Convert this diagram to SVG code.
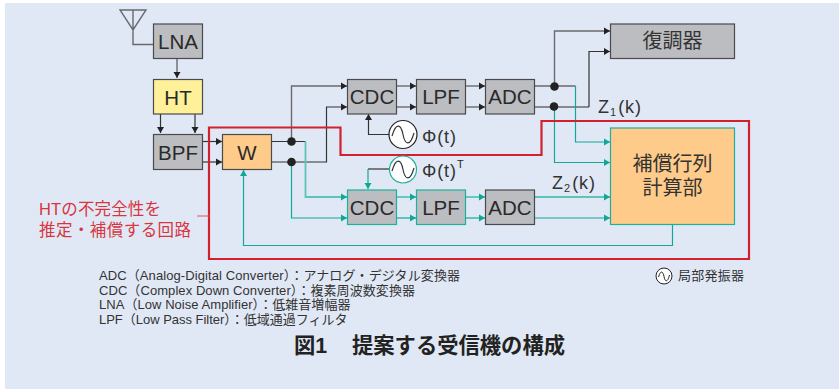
<svg xmlns="http://www.w3.org/2000/svg" width="839" height="389" viewBox="0 0 839 389">
<style>
text{font-family:"Liberation Sans","Noto Sans CJK JP",sans-serif;fill:#2a2a2a}
.jp{font-family:"Noto Sans CJK JP",sans-serif;fill:#333}
.b{font-size:20.500px;text-anchor:middle}
.g{fill:#bcbdc0;stroke:#4a4a4c;stroke-width:1.2}
.gt{fill:#bcbdc0;stroke:#1fb09c;stroke-width:1.2}
.k{fill:none;stroke:#333;stroke-width:1.2}
.kg{fill:none;stroke:#6a6a6e;stroke-width:1.4}
.t{fill:none;stroke:#12a898;stroke-width:1.2}
.tl{fill:none;stroke:#5cc4b8;stroke-width:1.8}
.r{fill:none;stroke:#d2202e;stroke-width:2.2}
.n{font-size:13px;fill:#333}
.lab{font-size:18px;letter-spacing:1px;fill:#333}
.red{font-size:16.500px;fill:#d8353f}
</style>
<defs>
<marker id="ak" markerUnits="userSpaceOnUse" markerWidth="7" markerHeight="8" refX="6" refY="4" orient="auto"><path d="M0 .5L6 4L0 7.500z" fill="#222"/></marker>
<marker id="at" markerUnits="userSpaceOnUse" markerWidth="7" markerHeight="8" refX="6" refY="4" orient="auto"><path d="M0 .5L6 4L0 7.500z" fill="#0fa896"/></marker>
</defs>
<rect x="0" y="0" width="839" height="389" fill="#fff"/>
<rect x="5" y="3" width="834" height="386" fill="#e1e8f5"/>
<g id="connectors">
<path class="kg" d="M120 10H146L133 30ZM133 10V44.500H153.500"/>
<path class="kg" d="M177 59V78" marker-end="url(#ak)"/>
<path class="k" d="M160.500 114V133" marker-end="url(#ak)"/>
<path class="k" d="M195 114V133" marker-end="url(#ak)"/>
<path class="k" d="M202 141.500H222" marker-end="url(#ak)"/>
<path class="k" d="M202 162H222" marker-end="url(#ak)"/>
<path class="k" d="M271 141.500H305.500"/>
<path class="k" d="M271 162H326.500V107H347" marker-end="url(#ak)"/>
<path class="kg" d="M291.500 141V86H347" marker-end="url(#ak)"/>
<path class="tl" d="M305.500 141.500V197H347" marker-end="url(#at)"/>
<path class="t" d="M291.500 162V218H347" marker-end="url(#at)"/>
<path class="kg" d="M396 86H416" marker-end="url(#ak)"/>
<path class="kg" d="M396 107H416" marker-end="url(#ak)"/>
<path class="kg" d="M465 86H485" marker-end="url(#ak)"/>
<path class="kg" d="M465 107H485" marker-end="url(#ak)"/>
<path class="kg" d="M534 86H575.500"/>
<path class="kg" d="M534 107H589"/>
<path class="kg" d="M554.500 86V31H610" marker-end="url(#ak)"/>
<path class="k" d="M589 107V51.500H610" marker-end="url(#ak)"/>
<path class="t" d="M575.500 86V142H610" marker-end="url(#at)"/>
<path class="t" d="M554.500 107V162.500H610" marker-end="url(#at)"/>
<path class="k" d="M389 134.500H368.500V114" marker-end="url(#ak)"/>
<path class="k" d="M389 169H368"/>
<path class="t" d="M368 169V189" marker-end="url(#at)"/>
<path class="tl" d="M396 197H416" marker-end="url(#at)"/>
<path class="t" d="M396 218H416" marker-end="url(#at)"/>
<path class="tl" d="M465 197H485" marker-end="url(#at)"/>
<path class="t" d="M465 218H485" marker-end="url(#at)"/>
<path class="tl" d="M534 197H610" marker-end="url(#at)"/>
<path class="t" d="M534 218H610" marker-end="url(#at)"/>
<path class="t" d="M672.500 224V245.500H243.500V170" marker-end="url(#at)"/>
<circle cx="291.500" cy="141.500" r="4.300" fill="#222"/>
<circle cx="291.500" cy="162" r="4.300" fill="#222"/>
<circle cx="554.500" cy="86.500" r="4.300" fill="#222"/>
<circle cx="554" cy="106.500" r="4.300" fill="#222"/>
</g>
<g id="red-region">
<path class="r" d="M209 127.500H340.500V155H541.500V121H749V259H209Z"/>
<path d="M197 216H209" fill="none" stroke="#e4505c" stroke-width="1"/>
</g>
<g id="LNA"><rect class="g" x="153.500" y="24" width="49" height="34.500"/><text class="b" x="178" y="49">LNA</text></g>
<g id="HT"><rect x="153.500" y="79.500" width="49" height="34.500" fill="#fff09a" stroke="#4a4a4c" stroke-width="1.200"/><text class="b" x="178" y="104.500">HT</text></g>
<g id="BPF"><rect class="g" x="153.500" y="134.500" width="49" height="35"/><text class="b" x="178" y="160">BPF</text></g>
<g id="W"><rect x="222.500" y="134.500" width="49" height="35" fill="#fecb8a" stroke="#4a4a4c" stroke-width="1.200"/><text class="b" x="247" y="160">W</text></g>
<g id="CDC1"><rect class="g" x="347.500" y="79.500" width="49" height="34.500"/><text class="b" x="372" y="104">CDC</text></g>
<g id="LPF1"><rect class="g" x="416.500" y="79.500" width="49" height="34.500"/><text class="b" x="441" y="104">LPF</text></g>
<g id="ADC1"><rect class="g" x="485.500" y="79.500" width="49" height="34.500"/><text class="b" x="510" y="104">ADC</text></g>
<g id="CDC2"><rect class="gt" x="347.500" y="190" width="49" height="34.500"/><text class="b" x="372" y="215">CDC</text></g>
<g id="LPF2"><rect class="gt" x="416.500" y="190" width="49" height="34.500"/><text class="b" x="441" y="215">LPF</text></g>
<g id="ADC2"><rect class="g" x="485.500" y="190" width="49" height="34.500"/><text class="b" x="510" y="215">ADC</text></g>
<g id="demod"><rect class="g" x="610.500" y="24" width="124" height="34.500"/><text class="jp" x="672.500" y="48" font-size="20" text-anchor="middle">復調器</text></g>
<g id="matrix"><rect x="610.500" y="128" width="124" height="96.500" fill="#fecb8a" stroke="#1fb09c" stroke-width="1.200"/><text class="jp" font-size="20" text-anchor="middle"><tspan x="672.500" y="171">補償行列</tspan><tspan x="672.500" y="195">計算部</tspan></text></g>
<g id="osc1"><circle cx="403" cy="134.500" r="14" fill="#fff" stroke="#222" stroke-width="1.200"/><path class="k" d="M392 136C396 122 401 124 403 134.500S410 147 414 133"/></g>
<g id="osc2"><circle cx="403" cy="169.500" r="13.500" fill="#fff" stroke="#1fb09c" stroke-width="1.200"/><path class="k" d="M392 171C396 157 401 159 403 169.500S410 182 414 168"/></g>
<g id="labels">
<text class="lab" x="422" y="143" textLength="35" lengthAdjust="spacing">Φ(t)</text>
<text class="lab" x="422" y="177" textLength="35" lengthAdjust="spacing">Φ(t)</text>
<text x="457" y="168" font-size="11" fill="#333">T</text>
<text class="lab" x="598" y="113">Z<tspan font-size="11" dy="3">1</tspan><tspan dy="-3" dx="1">(k)</tspan></text>
<text class="lab" x="552" y="189">Z<tspan font-size="11" dy="3">2</tspan><tspan dy="-3" dx="1">(k)</tspan></text>
<text class="red" x="39" y="215" textLength="122" lengthAdjust="spacing">HTの不完全性を</text>
<text class="red" x="39" y="236" textLength="152" lengthAdjust="spacing">推定・補償する回路</text>
<text class="n" x="99" y="280" textLength="361" lengthAdjust="spacing">ADC（Analog-Digital Converter）：アナログ・デジタル変換器</text>
<text class="n" x="99" y="295" textLength="316" lengthAdjust="spacing">CDC（Complex Down Converter）：複素周波数変換器</text>
<text class="n" x="99" y="309" textLength="251.500" lengthAdjust="spacing">LNA（Low Noise Amplifier）：低雑音増幅器</text>
<text class="n" x="99" y="324" textLength="248.500" lengthAdjust="spacing">LPF（Low Pass Filter）：低域通過フィルタ</text>
<text class="n" x="678" y="280" textLength="66" lengthAdjust="spacing">局部発振器</text>
<text font-size="21.300" font-weight="700" style="fill:#222" y="353"><tspan x="294">図1</tspan><tspan x="352">提案する受信機の構成</tspan></text>
</g>
<g id="legend-osc"><circle cx="664" cy="276" r="8" fill="#fff" stroke="#222" stroke-width="1"/><path d="M658.500 277C660.500 270 663 271 664 276.500S667.500 283 669.500 275" fill="none" stroke="#222"/></g>
</svg>
